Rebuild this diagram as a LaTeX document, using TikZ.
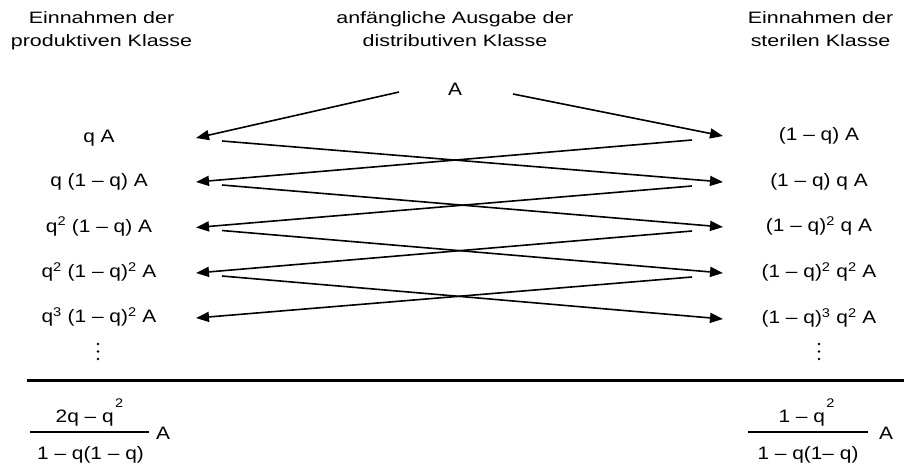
\documentclass[tikz,border=0pt]{standalone}
\usepackage{fontspec}
\setmainfont{Liberation Sans}
\newfontfamily\hdrfont{Liberation Sans}[FakeStretch=1.3]
\newfontfamily\lblfont{Liberation Sans}[FakeStretch=1.16]
\usetikzlibrary{arrows.meta}
\newcommand{\fracsup}{\kern1.5pt\raisebox{15pt}{\fontsize{12.5}{12.5}\selectfont 2}}
\begin{document}
\begin{tikzpicture}[x=1pt,y=-1pt,
  hdr/.style={font=\hdrfont\fontsize{16.5}{23}\selectfont, align=center, inner sep=0pt},
  lbl/.style={font=\lblfont\fontsize{18}{20}\selectfont, inner sep=0pt, anchor=base},
  conn/.style={line width=1.6pt, -{Triangle[length=13pt,width=10pt]}},
  bar/.style={line width=1.5pt},
  rule/.style={line width=3pt},
  dot/.style={circle, fill=black, inner sep=0pt, minimum size=2.6pt}]
\useasboundingbox (0,0) rectangle (904,472);
% headers
\node[hdr] (hP) at (101.5,29.9) {Einnahmen der\strut\\produktiven Klasse\strut};
\node[hdr] (hD) at (455,29.9) {anfängliche Ausgabe der\strut\\distributiven Klasse\strut};
\node[hdr] (hS) at (820.5,29.9) {Einnahmen der\strut\\sterilen Klasse\strut};
% A
\node[lbl] (A) at (455,95) {A};
% left column
\node[lbl] (l1) at (99,142.5) {q A};
\node[lbl] (l2) at (99,186.5) {q (1 – q) A};
\node[lbl] (l3) at (99,232) {q\textsuperscript{2} (1 – q) A};
\node[lbl] (l4) at (99,277.5) {q\textsuperscript{2} (1 – q)\textsuperscript{2} A};
\node[lbl] (l5) at (99,322.5) {q\textsuperscript{3} (1 – q)\textsuperscript{2} A};
\node[dot] (ld1) at (98,344) {};
\node[dot] (ld2) at (98,351.5) {};
\node[dot] (ld3) at (98,359) {};
% right column
\node[lbl] (r1) at (819,140.5) {(1 – q) A};
\node[lbl] (r2) at (819,186.5) {(1 – q) q A};
\node[lbl] (r3) at (819,231.5) {(1 – q)\textsuperscript{2} q A};
\node[lbl] (r4) at (819,277.5) {(1 – q)\textsuperscript{2} q\textsuperscript{2} A};
\node[lbl] (r5) at (819,323.5) {(1 – q)\textsuperscript{3} q\textsuperscript{2} A};
\node[dot] (rd1) at (819,344) {};
\node[dot] (rd2) at (819,351.5) {};
\node[dot] (rd3) at (819,359) {};
% connector end points
\coordinate (aL) at (399,92);
\coordinate (aR) at (513,94);
\coordinate (lt1) at (196,138);
\coordinate (lt2) at (196,182);
\coordinate (lt3) at (196,227.5);
\coordinate (lt4) at (196,273);
\coordinate (lt5) at (196,318);
\coordinate (rt1) at (723,136);
\coordinate (rt2) at (723,182);
\coordinate (rt3) at (723,227);
\coordinate (rt4) at (723,273);
\coordinate (rt5) at (723,319);
\coordinate (ls1) at (222,141);
\coordinate (ls2) at (222,185);
\coordinate (ls3) at (222,230.5);
\coordinate (ls4) at (222,276);
\coordinate (rs1) at (692,140);
\coordinate (rs2) at (692,186);
\coordinate (rs3) at (692,231);
\coordinate (rs4) at (692,277);
% connectors
\draw[conn] (aL) -- (lt1);
\draw[conn] (aR) -- (rt1);
\draw[conn] (ls1) -- (rt2);
\draw[conn] (rs1) -- (lt2);
\draw[conn] (ls2) -- (rt3);
\draw[conn] (rs2) -- (lt3);
\draw[conn] (ls3) -- (rt4);
\draw[conn] (rs3) -- (lt4);
\draw[conn] (ls4) -- (rt5);
\draw[conn] (rs4) -- (lt5);
% rule
\coordinate (ruleL) at (27,380.5);
\coordinate (ruleR) at (904,380.5);
\draw[rule] (ruleL) -- (ruleR);
% fractions
\node[lbl] (numL) at (89.5,422) {2q – q\fracsup};
\coordinate (barL1) at (30,432);
\coordinate (barL2) at (149,432);
\draw[bar] (barL1) -- (barL2);
\node[lbl] (denL) at (90.5,459) {1 – q(1 – q)};
\node[lbl] (AL) at (163,439.5) {A};
\node[lbl] (numR) at (806.5,422) {1 – q\fracsup};
\coordinate (barR1) at (748,432);
\coordinate (barR2) at (868,432);
\draw[bar] (barR1) -- (barR2);
\node[lbl] (denR) at (808,459) {1 – q(1– q)};
\node[lbl] (AR) at (886,439.5) {A};
\end{tikzpicture}
\end{document}
